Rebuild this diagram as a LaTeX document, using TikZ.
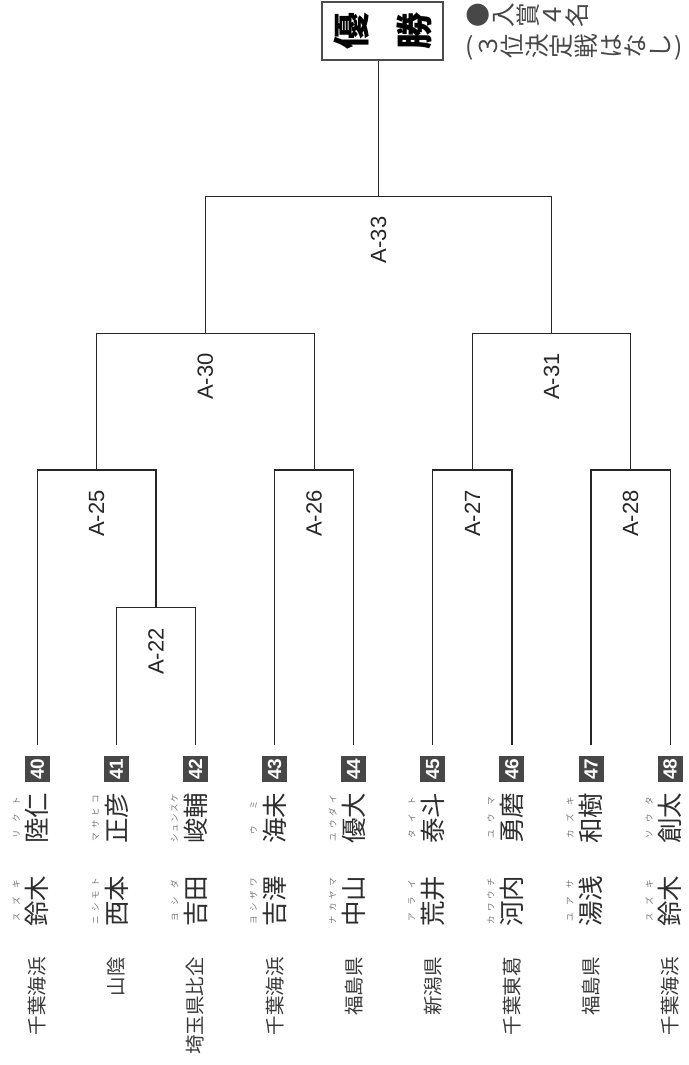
\documentclass[tikz,border=0pt]{standalone}
\usepackage{fontspec}
\usepackage{graphicx}
\setmainfont{Liberation Sans}
\newfontfamily\jp{Noto Sans CJK JP}
\newcommand\rc[1]{\rotatebox{90}{\makebox[1em]{\rule[-0.12em]{0pt}{1em}#1}}}
\newcommand\rubyspread[1]{\hbox to 50pt{\hskip 0pt plus .5fil\relax #1\hskip 0pt plus .5fil\relax}}
\begin{document}
\begin{tikzpicture}[x=1pt,y=-1pt,
  bracket/.style={draw=black!85, line width=1.2pt},
  seed/.style={rotate=90, fill=black!72, text=white, font=\bfseries\fontsize{19}{19}\selectfont, minimum width=26pt, minimum height=25pt, inner sep=0pt},
  pname/.style={rotate=90, font=\jp\fontsize{25.5}{25.5}\selectfont, text=black!82, inner sep=0pt},
  ruby/.style={rotate=90, font=\jp\fontsize{8.5}{8.5}\selectfont, text=black!55, inner sep=0pt},
  pref/.style={rotate=90, anchor=east, font=\jp\fontsize{19.5}{19.5}\selectfont, text=black!78, inner sep=0pt},
  match/.style={rotate=90, anchor=east, font=\fontsize{22}{22}\selectfont, text=black!85, inner sep=0pt},
  note/.style={anchor=west, inner sep=0pt, font=\jp\fontsize{24.6}{24.6}\selectfont, text=black!72},
]
\useasboundingbox (0,0) rectangle (688,1065);

% champion box and note
\node[draw=black!70, line width=1.6pt, minimum width=121pt, minimum height=58pt, inner sep=0pt,
      font=\jp\bfseries\fontsize{37}{37}\selectfont] (win) at (382.5,31) {\rc{優}\hspace{26pt}\rc{勝}};
\node[note] (note1) at (466,15)
  {\rc{●}\rc{入}\rc{賞}\rc{４}\rc{名}};
\node[note] (note2) at (463,47)
  {\makebox[0.5em]{\raisebox{0.12em}{(}}\rc{３}\rc{位}\rc{決}\rc{定}\rc{戦}\rc{は}\rc{な}\rc{し}\makebox[0.5em]{\raisebox{0.12em}{)}}};

% players
\foreach \i/\x/\pref/\fam/\famr/\giv/\givr in {
  40/37.3/千葉海浜/鈴木/{ス\hfil ズ\hfil キ}/陸仁/{リ\hfil ク\hfil ト},
  41/116.4/山陰/西本/{ニ\hfil シ\hfil モ\hfil ト}/正彦/{マ\hfil サ\hfil ヒ\hfil コ},
  42/195.5/埼玉県比企/吉田/{ヨ\hfil シ\hfil ダ}/峻輔/{シ\hfil ュ\hfil ン\hfil ス\hfil ケ},
  43/274.6/千葉海浜/吉澤/{ヨ\hfil シ\hfil ザ\hfil ワ}/海未/{ウ\hfil ミ},
  44/353.7/福島県/中山/{ナ\hfil カ\hfil ヤ\hfil マ}/優大/{ユ\hfil ウ\hfil ダ\hfil イ},
  45/432.8/新潟県/荒井/{ア\hfil ラ\hfil イ}/泰斗/{タ\hfil イ\hfil ト},
  46/511.9/千葉東葛/河内/{カ\hfil ワ\hfil ウ\hfil チ}/勇磨/{ユ\hfil ウ\hfil マ},
  47/591.0/福島県/湯浅/{ユ\hfil ア\hfil サ}/和樹/{カ\hfil ズ\hfil キ},
  48/670.1/千葉海浜/鈴木/{ス\hfil ズ\hfil キ}/創太/{ソ\hfil ウ\hfil タ}}{
  \coordinate (t\i) at (\x,745);
  \node[seed] (s\i) at (\x,769) {\i};
  \node[pname] (g\i) at (\x,818) {\giv};
  \node[ruby] (gr\i) at ({\x-21},818) {\rubyspread{\givr}};
  \node[pname] (f\i) at (\x,901) {\fam};
  \node[ruby] (fr\i) at ({\x-21},901) {\rubyspread{\famr}};
  \node[pref] (p\i) at (\x,957) {\pref};
}

% match points
\coordinate (m22) at (156,607.7);
\coordinate (m25) at (96.6,470);
\coordinate (m26) at (314.1,470);
\coordinate (m27) at (472.4,470);
\coordinate (m28) at (630.6,470);
\coordinate (m30) at (205.4,333.3);
\coordinate (m31) at (551.5,333.3);
\coordinate (m33) at (378.5,196.7);

% bracket lines
\draw[bracket] (t41) |- (m22) -| (t42);
\draw[bracket] (t40) |- (m25) -| (m22);
\draw[bracket] (t43) |- (m26) -| (t44);
\draw[bracket] (t45) |- (m27) -| (t46);
\draw[bracket] (t47) |- (m28) -| (t48);
\draw[bracket] (m25) |- (m30) -| (m26);
\draw[bracket] (m27) |- (m31) -| (m28);
\draw[bracket] (m30) |- (m33) -| (m31);
\draw[bracket] (m33) -- (m33 |- win.south);

% match labels
\node[match] (l22) at (156,628) {A-22};
\node[match] (l25) at (96.6,490) {A-25};
\node[match] (l26) at (314.1,490) {A-26};
\node[match] (l27) at (472.4,490) {A-27};
\node[match] (l28) at (630.6,490) {A-28};
\node[match] (l30) at (205.4,353) {A-30};
\node[match] (l31) at (551.5,353) {A-31};
\node[match] (l33) at (378.5,216.5) {A-33};
\end{tikzpicture}
\end{document}
